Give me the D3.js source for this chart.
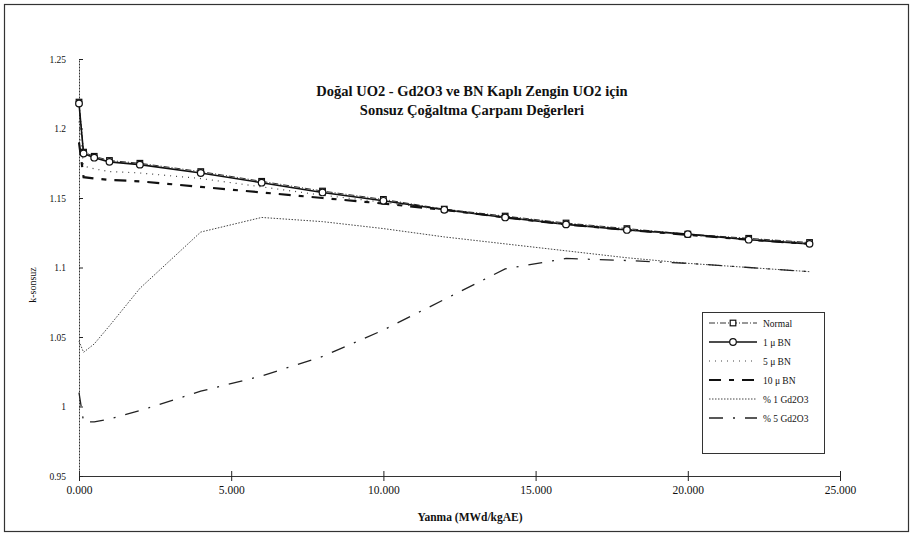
<!DOCTYPE html>
<html>
<head>
<meta charset="utf-8">
<script src="https://cdn.jsdelivr.net/npm/d3@7"></script>
<style>
  body { margin: 0; background: #fff; }
  svg text { font-family: "Liberation Serif", "Times New Roman", "DejaVu Serif", serif; fill: #111; }
  .y-axis .tick text { font-size: 9.5px; }
  .x-axis .tick text { font-size: 11.5px; }
  .domain { stroke: #333; }
</style>
</head>
<body>
<div id="chart"></div>
<script>
// burnup points (MWd/kgAE)
const burnup = [0, 150, 500, 1000, 2000, 4000, 6000, 8000, 10000, 12000, 14000, 16000, 18000, 20000, 22000, 24000];

// k-infinity values
const normal = [1.219, 1.183, 1.180, 1.177, 1.175, 1.169, 1.162, 1.155, 1.149, 1.142, 1.137, 1.132, 1.128, 1.124, 1.121, 1.118];
const bn1 = [1.218, 1.182, 1.179, 1.176, 1.174, 1.168, 1.161, 1.154, 1.148, 1.1415, 1.136, 1.131, 1.127, 1.124, 1.120, 1.117];
const bn5 = [1.205, 1.173, 1.171, 1.169, 1.168, 1.164, 1.158, 1.152, 1.147, 1.1415, 1.136, 1.131, 1.127, 1.1235, 1.120, 1.117];
const bn10 = [1.19, 1.165, 1.164, 1.163, 1.162, 1.158, 1.154, 1.150, 1.146, 1.1415, 1.136, 1.131, 1.127, 1.1235, 1.120, 1.117];
const gd1 = [1.047, 1.039, 1.045, 1.058, 1.085, 1.1255, 1.136, 1.133, 1.128, 1.122, 1.117, 1.112, 1.107, 1.103, 1.100, 1.097];
const gd5 = [1.010, 0.989, 0.989, 0.991, 0.997, 1.011, 1.022, 1.036, 1.055, 1.077, 1.099, 1.1065, 1.105, 1.103, 1.100, 1.097];

const seriesNames = ["Normal", "1 \u03bc BN", "5 \u03bc BN", "10 \u03bc BN", "% 1 Gd2O3", "% 5 Gd2O3"];

const xTicks = [0, 5000, 10000, 15000, 20000, 25000];
const xTickLabels = ["0.000", "5.000", "10.000", "15.000", "20.000", "25.000"];
const yTicks = [0.95, 1, 1.05, 1.1, 1.15, 1.2, 1.25];
const yTickLabels = ["0.95", "1", "1.05", "1.1", "1.15", "1.2", "1.25"];

const width = 913, height = 542;

const svg = d3.select("#chart").append("svg")
    .attr("width", width)
    .attr("height", height);

// outer frame of the scanned figure
svg.append("rect")
    .attr("x", 4.5).attr("y", 4.5)
    .attr("width", 904).attr("height", 527)
    .attr("fill", "none")
    .attr("stroke", "#333")
    .attr("stroke-width", 1.2);

const x = d3.scaleLinear().domain([0, 25000]).range([79, 840]);
const y = d3.scaleLinear().domain([0.95, 1.25]).range([476, 59]);

// x axis
const xAxis = svg.append("g")
    .attr("class", "x-axis")
    .attr("transform", "translate(0," + y(0.95) + ")")
    .call(d3.axisBottom(x)
        .tickValues(xTicks)
        .tickSizeInner(5)
        .tickSizeOuter(0)
        .tickPadding(5)
        .tickFormat((d, i) => xTickLabels[i]));
xAxis.attr("font-family", null);
xAxis.selectAll(".tick line").attr("y1", -5).attr("stroke", "#222");

// y axis
const yAxis = svg.append("g")
    .attr("class", "y-axis")
    .attr("transform", "translate(" + x(0) + ",0)")
    .call(d3.axisLeft(y)
        .tickValues(yTicks)
        .tickSizeInner(4)
        .tickSizeOuter(0)
        .tickPadding(9)
        .tickFormat((d, i) => yTickLabels[i]));
yAxis.attr("font-family", null);
yAxis.select(".domain").attr("stroke-dasharray", "2,1").attr("stroke", "#555");
yAxis.selectAll(".tick line").attr("x2", 4).attr("stroke", "#222");

// axis titles
svg.append("text")
    .attr("x", 470).attr("y", 521)
    .attr("text-anchor", "middle")
    .style("font-size", "11.5px")
    .style("font-weight", "bold")
    .text("Yanma (MWd/kgAE)");

svg.append("text")
    .attr("transform", "translate(36,285) rotate(-90)")
    .attr("text-anchor", "middle")
    .style("font-size", "10px")
    .text("k-sonsuz");

// chart title
svg.append("text")
    .attr("x", 472).attr("y", 96)
    .attr("text-anchor", "middle")
    .style("font-size", "14.5px")
    .style("font-weight", "bold")
    .text("Doğal UO2 - Gd2O3 ve BN Kaplı Zengin UO2 için");

svg.append("text")
    .attr("x", 472).attr("y", 115)
    .attr("text-anchor", "middle")
    .style("font-size", "14.5px")
    .style("font-weight", "bold")
    .text("Sonsuz Çoğaltma Çarpanı Değerleri");

// series styles
const series = [
    {name: seriesNames[0], values: normal, dash: "6,2,1,2", width: 1, color: "#333", marker: "square"},
    {name: seriesNames[1], values: bn1, dash: null, width: 1.6, color: "#111", marker: "circle"},
    {name: seriesNames[2], values: bn5, dash: "1,5", width: 1.2, color: "#444", marker: null},
    {name: seriesNames[3], values: bn10, dash: "12,8,5,8", width: 2.2, color: "#111", marker: null},
    {name: seriesNames[4], values: gd1, dash: "1.5,1.5", width: 1, color: "#444", marker: null},
    {name: seriesNames[5], values: gd5, dash: "14,10,2,10", width: 1.3, color: "#222", marker: null}
];

const line = d3.line()
    .x(d => x(d[0]))
    .y(d => y(d[1]));

series.forEach(function(s) {
    const pts = burnup.map((b, i) => [b, s.values[i]]);
    svg.append("path")
        .datum(pts)
        .attr("d", line)
        .attr("fill", "none")
        .attr("stroke", s.color)
        .attr("stroke-width", s.width)
        .attr("stroke-dasharray", s.dash);
});

// markers drawn on top
function drawMarker(g, type, cx, cy) {
    if (type == "circle") {
        g.append("circle")
            .attr("cx", cx).attr("cy", cy).attr("r", 3.3)
            .attr("fill", "#fff").attr("stroke", "#111").attr("stroke-width", 1.2);
    }
    else if (type == "square") {
        g.append("rect")
            .attr("x", cx - 2.8).attr("y", cy - 2.8)
            .attr("width", 5.6).attr("height", 5.6)
            .attr("fill", "#fff").attr("stroke", "#111").attr("stroke-width", 1.2);
    }
}

const markers = svg.append("g");
series.filter(s => s.marker).forEach(function(s) {
    burnup.forEach(function(b, i) {
        drawMarker(markers, s.marker, x(b), y(s.values[i]));
    });
});

// legend
const legend = svg.append("g");
legend.append("rect")
    .attr("x", 702.5).attr("y", 312.5)
    .attr("width", 122).attr("height", 141)
    .attr("fill", "#fff")
    .attr("stroke", "#333")
    .attr("stroke-width", 1);

series.forEach(function(s, i) {
    const ly = 323 + i * 19;
    legend.append("line")
        .attr("x1", 709).attr("x2", 757)
        .attr("y1", ly).attr("y2", ly)
        .attr("stroke", s.color)
        .attr("stroke-width", s.width)
        .attr("stroke-dasharray", s.dash);
    drawMarker(legend, s.marker, 733, ly);
    legend.append("text")
        .attr("x", 763).attr("y", ly + 3.5)
        .style("font-size", "9.5px")
        .text(s.name);
});
</script>
</body>
</html>
